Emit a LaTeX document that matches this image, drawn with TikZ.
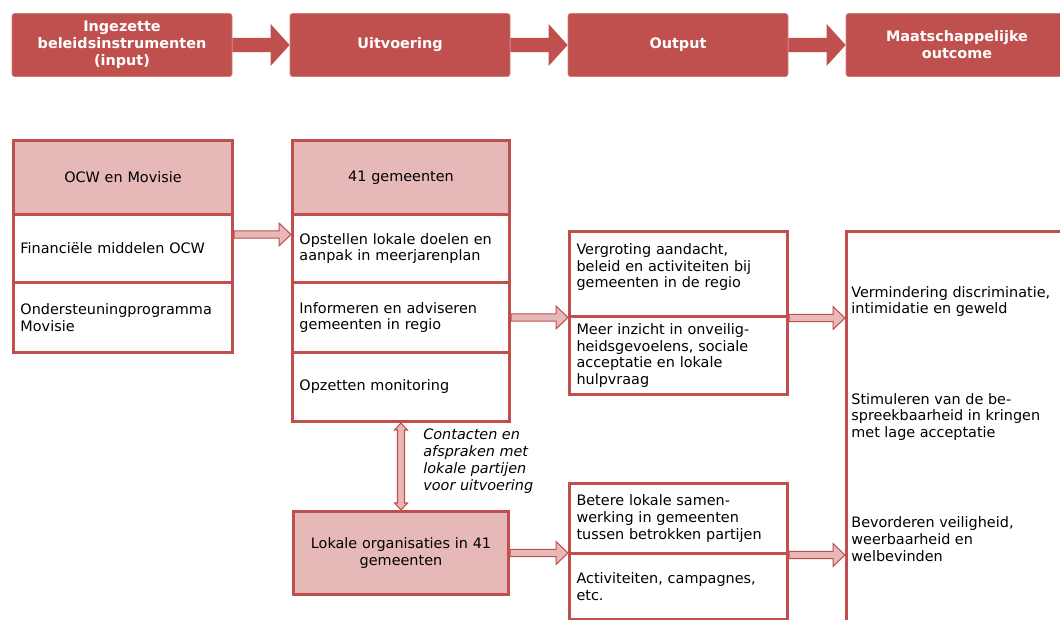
\documentclass[tikz,border=0pt]{standalone}
\usepackage{fontspec}
\setmainfont{DejaVu Sans}
\usetikzlibrary{calc}

\definecolor{kop}{HTML}{C0504D}
\definecolor{roze}{HTML}{E6B9B8}
\newlength\px
\setlength\px{0.02cm}

% block arrow: style, start, target, half shaft, half head, head length
\newcommand{\fatarrow}[6]{%
  \path[#1] let \p1=(#2), \p2=(#3) in
    (\x1,\y1+#4) -- (\x2-#6,\y1+#4) -- (\x2-#6,\y1+#5) -- (\x2,\y1)
    -- (\x2-#6,\y1-#5) -- (\x2-#6,\y1-#4) -- (\x1,\y1-#4) -- cycle;}

\tikzset{
  hdr/.style={fill=kop, draw=kop!75!white, line width=0.4pt, rounded corners=1.5pt,
    text=white, font=\fontsize{8.2}{9.64}\selectfont\bfseries, align=center,
    minimum height=63\px, inner sep=0pt},
  cel/.style={draw=kop, line width=1.7pt, fill=white, anchor=north west,
    align=left, inner xsep=7\px, inner ysep=0pt, font=\fontsize{8.2}{9.64}\selectfont},
  kopcel/.style={cel, fill=roze, align=center},
  tekst/.style={anchor=west, align=left, inner sep=0pt, font=\fontsize{8.2}{9.64}\selectfont},
  darr/.style={fill=kop},
  parr/.style={fill=roze, draw=kop, line width=0.6pt}
}

\begin{document}
\begin{tikzpicture}[x=0.02cm, y=-0.02cm]
  \useasboundingbox (0,0) rectangle (1060,619);
  \clip (0,0) rectangle (1060,619);

  % header row
  \node [hdr, minimum width=220\px] (hin) at (122,45) {Ingezette\\beleidsinstrumenten\\(input)};
  \node [hdr, minimum width=220\px] (huit) at (400,45) {Uitvoering};
  \node [hdr, minimum width=220\px] (hout) at (678,45) {Output};
  \node [hdr, minimum width=222\px] (hmaat) at (957,45) {Maatschappelijke\\outcome};

  \fatarrow{darr}{hin.east}{huit.west}{4.1pt}{11.9pt}{10.8pt}
  \fatarrow{darr}{huit.east}{hout.west}{4.1pt}{11.9pt}{10.8pt}
  \fatarrow{darr}{hout.east}{hmaat.west}{4.1pt}{11.9pt}{10.8pt}

  % input
  \node [kopcel, minimum width=219\px, text width=205\px, minimum height=74\px] (ocw) at (12,139) {OCW en Movisie};
  \node [cel, minimum width=219\px, text width=205\px, minimum height=68\px] (fin) at (12,213) {Financiële middelen OCW};
  \node [cel, minimum width=219\px, text width=205\px, minimum height=70\px] (ond) at (12,281) {Ondersteuningprogramma\\Movisie};

  % uitvoering
  \node [kopcel, minimum width=217\px, text width=203\px, minimum height=74\px] (gem) at (291,139) {41 gemeenten};
  \node [cel, minimum width=217\px, text width=203\px, minimum height=68\px] (opst) at (291,213) {Opstellen lokale doelen en\\aanpak in meerjarenplan};
  \node [cel, minimum width=217\px, text width=203\px, minimum height=70\px] (inf) at (291,281) {Informeren en adviseren\\gemeenten in regio};
  \node [cel, minimum width=217\px, text width=203\px, minimum height=69\px] (mon) at (291,351) {Opzetten monitoring};

  \node [kopcel, minimum width=215\px, text width=201\px, minimum height=83\px] (lok) at (292,510) {Lokale organisaties in 41\\gemeenten};
  \node [tekst, font=\fontsize{8.2}{9.64}\selectfont\itshape] (afspr) at (423,461) {Contacten en\\afspraken met\\lokale partijen\\voor uitvoering};

  % output
  \node [cel, minimum width=218\px, text width=204\px, minimum height=85\px] (verg) at (568,230) {Vergroting aandacht,\\beleid en activiteiten bij\\gemeenten in de regio\\~};
  \node [cel, minimum width=218\px, text width=204\px, minimum height=78\px] (inz) at (568,315) {Meer inzicht in onveilig-\\heidsgevoelens, sociale\\acceptatie en lokale\\hulpvraag};
  \node [cel, minimum width=218\px, text width=204\px, minimum height=70\px] (bet) at (568,482) {Betere lokale samen-\\werking in gemeenten\\tussen betrokken partijen};
  \node [cel, minimum width=218\px, text width=204\px, minimum height=66\px] (act) at (568,552) {Activiteiten, campagnes,\\etc.};

  % outcome
  \node [cel, minimum width=260\px, minimum height=440\px] (maat) at (845,230) {};
  \node [tekst] (vmd) at (851,301.5) {Vermindering discriminatie,\\intimidatie en geweld};
  \node [tekst] (stim) at (851,417) {Stimuleren van de be-\\spreekbaarheid in kringen\\met lage acceptatie};
  \node [tekst] (bev) at (851,539) {Bevorderen veiligheid,\\weerbaarheid en\\welbevinden};

  % connectors
  \coordinate (finpijl) at ($(fin.north east)+(0,21.5)$);
  \fatarrow{parr}{finpijl}{opst.west}{2.1pt}{6.5pt}{6.8pt}
  \fatarrow{parr}{inf.east}{verg.west}{2.1pt}{6.5pt}{6.8pt}
  \fatarrow{parr}{verg.south east}{maat.west}{2.1pt}{6.5pt}{6.8pt}
  \fatarrow{parr}{lok.east}{bet.west}{2.1pt}{6.5pt}{6.8pt}
  \fatarrow{parr}{bet.south east}{maat.west}{2.1pt}{6.5pt}{6.8pt}

  \path [parr] let \p1=(lok.north), \p2=(mon.south) in
    (\x1,\y2) -- (\x1+3.7pt,\y2-4pt) -- (\x1+2pt,\y2-4pt) -- (\x1+2pt,\y1+4pt)
    -- (\x1+3.7pt,\y1+4pt) -- (\x1,\y1) -- (\x1-3.7pt,\y1+4pt) -- (\x1-2pt,\y1+4pt)
    -- (\x1-2pt,\y2-4pt) -- (\x1-3.7pt,\y2-4pt) -- cycle;
\end{tikzpicture}
\end{document}
